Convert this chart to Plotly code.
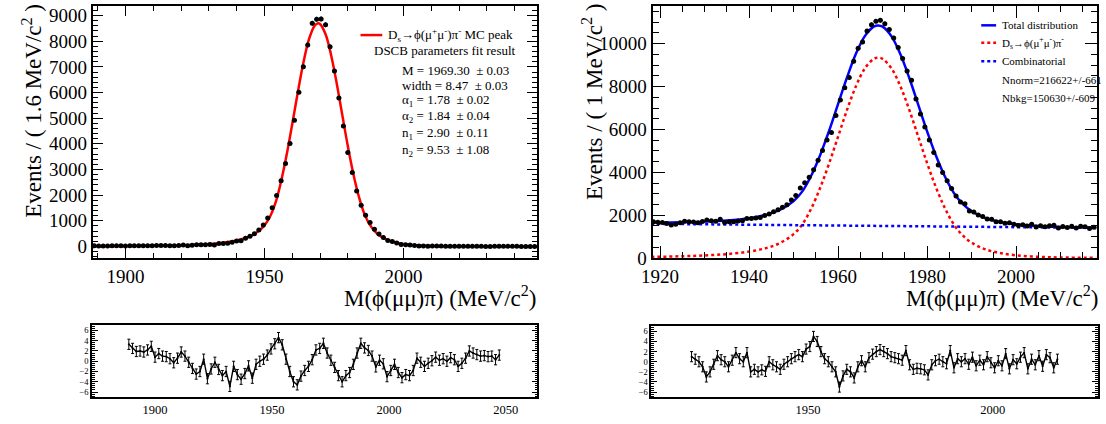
import numpy as np
import plotly.graph_objects as go

# ---------------- data: left (MC peak, 1.6 MeV bins) ----------------
left_start = 1888.8
left_bw = 1.6
left_counts = [22, 21, 20, 21, 22, 25, 29, 21, 25, 24,
               25, 25, 24, 30, 39, 38, 34, 29, 26, 32,
               54, 31, 50, 67, 63, 61, 78, 59, 115, 113,
               121, 161, 215, 217, 314, 394, 494, 636, 839, 1112,
               1510, 1990, 2557, 3235, 4013, 4922, 6013, 7001, 7850, 8700,
               8860, 8870, 8640, 7787, 6842, 5788, 4691, 3666, 2878, 2159,
               1606, 1212, 933, 669, 488, 348, 230, 189, 136, 78,
               68, 60, 35, 20, 17, 11, 12, 18, 12, 7,
               7, 7, 8, 5, 5, 4, 4, 3, 1, 1,
               2, 4, 3, 2, 2, 2, 1, 1, 1, 1]
left_fit_m = [1888, 1900, 1910, 1920, 1930, 1935, 1940, 1945, 1948, 1950, 1952, 1954,
              1956, 1958, 1960, 1962, 1964, 1966, 1968, 1969.3, 1970, 1972, 1974, 1976,
              1978, 1980, 1982, 1984, 1986, 1988, 1990, 1992, 1995, 2000, 2005, 2010,
              2020, 2030, 2048]
left_fit_v = [11, 17, 28, 48, 94, 142, 229, 404, 606, 822, 1156, 1704,
              2537, 3573, 4762, 6000, 7153, 8064, 8598, 8700, 8670, 8270, 7457, 6363,
              5134, 3916, 2826, 1930, 1260, 832, 560, 382, 222, 95, 44, 21,
              6, 2, 0.4]
left_pull = [3.3, 2.5, 1.9, 2.0, 1.8, 2.2, 2.9, 0.8, 1.5, 1.0,
             0.9, 0.5, -0.3, 0.6, 1.8, 1.0, -0.2, -1.4, -2.5, -2.0,
             0.4, -3.4, -1.5, -0.2, -1.6, -2.8, -2.0, -4.9, -1.0, -2.6,
             -3.5, -2.4, -0.9, -3.3, -0.6, 0.0, 0.4, 1.2, 2.4, 3.4,
             4.6, 3.2, 0.4, -2.0, -4.0, -4.6, -2.9, -1.8, -1.0, 0.3,
             2.2, 2.5, 3.5, 1.6, 0.2, -1.2, -2.8, -4.0, -2.8, -2.2,
             -0.6, 1.6, 3.5, 2.6, 2.1, 1.0, -1.1, 0.2, -0.5, -3.0,
             -1.8, -0.6, -2.2, -3.2, -2.6, -2.8, -1.8, 0.6, -0.2, -1.0,
             -0.4, 0.1, 0.8, 0.2, 0.5, 0.0, 0.7, 0.3, -1.0, -0.4,
             0.6, 2.0, 1.6, 1.3, 1.0, 1.1, 0.9, 1.0, 0.3, 1.2]

# ---------------- data: right (fit to data, 1 MeV bins) ----------------
right_start = 1918.5
right_bw = 1.0
right_counts = [1697, 1677, 1658, 1619, 1540, 1583, 1648, 1725, 1696, 1685,
                1649, 1710, 1780, 1739, 1724, 1811, 1665, 1700, 1696, 1732,
                1742, 1849, 1853, 1871, 1890, 1983, 2062, 2160, 2259, 2378,
                2484, 2706, 2919, 3265, 3510, 3776, 4123, 4565, 5020, 5508,
                5862, 6646, 7376, 7945, 8420, 9176, 9783, 10078, 10586, 10882,
                11048, 11088, 10928, 10658, 10267, 9825, 9309, 8722, 8295, 7422,
                6718, 6115, 5509, 4929, 4339, 3992, 3608, 3242, 2893, 2613,
                2534, 2200, 2149, 2009, 1943, 1820, 1816, 1693, 1694, 1621,
                1654, 1580, 1518, 1554, 1499, 1578, 1449, 1507, 1468, 1509,
                1536, 1407, 1473, 1425, 1490, 1405, 1488, 1461, 1382, 1442]
right_fit_m = [1918, 1925, 1930, 1935, 1940, 1944, 1947, 1950, 1952, 1954, 1956, 1958,
               1960, 1962, 1964, 1966, 1968, 1969, 1970, 1972, 1974, 1976, 1978, 1980,
               1982, 1984, 1986, 1988, 1990, 1993, 1996, 2000, 2005, 2010, 2018]
right_sig_v = [56, 87, 125, 188, 305, 479, 711, 1121, 1589, 2331, 3295, 4430,
               5671, 6910, 8013, 8845, 9292, 9350, 9292, 8845, 8013, 6910, 5671, 4430,
               3295, 2331, 1573, 1058, 724, 419, 251, 132, 62, 31, 11]
right_bkg_v = [1600, 1587, 1577, 1568, 1558, 1551, 1545, 1539, 1535, 1532, 1528, 1524,
               1520, 1516, 1513, 1509, 1505, 1503, 1501, 1497, 1494, 1490, 1486, 1482,
               1478, 1475, 1471, 1467, 1463, 1458, 1452, 1444, 1435, 1425, 1410]
right_pull = [1.0, 0.5, 0.0, -1.0, -3.0, -2.0, -0.5, 1.2, 0.4, 0.0,
              -1.0, 0.3, 1.8, 0.6, 0.0, 1.8, -2.0, -1.5, -2.0, -1.6,
              -1.9, 0.0, -0.6, -1.0, -1.5, -0.5, 0.0, 0.6, 1.0, 1.4,
              1.0, 2.5, 3.0, 5.0, 4.0, 2.0, 0.6, 0.0, -1.0, -2.0,
              -5.0, -2.8, -1.5, -2.0, -3.2, -1.0, 0.2, -1.0, 0.8, 1.5,
              2.0, 2.4, 2.0, 1.6, 1.0, 0.8, 0.6, 0.3, 2.2, -0.6,
              -1.5, -1.3, -1.4, -1.6, -2.6, -0.6, 0.2, 0.5, 0.0, -0.4,
              2.2, -1.2, 0.6, 0.0, 0.6, -0.5, 0.9, -0.8, 0.3, -0.6,
              1.0, -0.2, -1.2, 0.2, -0.8, 1.6, -1.4, 0.4, -0.4, 0.9,
              1.8, -1.4, 0.5, -0.6, 1.2, -0.9, 1.4, 0.8, -1.2, 0.5]

left_x = left_start + left_bw * np.arange(len(left_counts))
right_x = right_start + right_bw * np.arange(len(right_counts))
left_counts = np.array(left_counts, dtype=float)
right_counts = np.array(right_counts, dtype=float)
right_tot_v = np.array(right_sig_v) + np.array(right_bkg_v)

FONT = "Liberation Serif, Times New Roman, Times, DejaVu Serif, serif"
W, H = 1106, 424
def px(x):
    return x / W
def py(y):
    return 1 - y / H

fig = go.Figure()

# left main
fig.add_trace(go.Scatter(x=left_fit_m, y=left_fit_v, mode="lines",
                         line=dict(color="#ff0000", width=2.5, shape="spline"),
                         xaxis="x", yaxis="y", hoverinfo="skip"))
fig.add_trace(go.Scatter(x=left_x, y=left_counts, mode="markers",
                         marker=dict(color="black", size=5),
                         error_y=dict(type="data", array=np.sqrt(left_counts), color="black", thickness=1, width=0),
                         error_x=dict(type="constant", value=left_bw / 2, color="black", thickness=1, width=0),
                         xaxis="x", yaxis="y"))

# right main
fig.add_trace(go.Scatter(x=right_fit_m, y=right_sig_v, mode="lines",
                         line=dict(color="#ff0000", width=2.5, dash="dot", shape="spline"),
                         xaxis="x2", yaxis="y2"))
fig.add_trace(go.Scatter(x=right_fit_m, y=right_bkg_v, mode="lines",
                         line=dict(color="#0000ff", width=2.5, dash="dot"),
                         xaxis="x2", yaxis="y2"))
fig.add_trace(go.Scatter(x=right_fit_m, y=right_tot_v, mode="lines",
                         line=dict(color="#0000ff", width=2.5, shape="spline"),
                         xaxis="x2", yaxis="y2"))
fig.add_trace(go.Scatter(x=right_x, y=right_counts, mode="markers",
                         marker=dict(color="black", size=5),
                         error_y=dict(type="data", array=np.sqrt(right_counts), color="black", thickness=1, width=0),
                         error_x=dict(type="constant", value=right_bw / 2, color="black", thickness=1, width=0),
                         xaxis="x2", yaxis="y2"))

# pulls
fig.add_trace(go.Scatter(x=left_x, y=left_pull, mode="lines+markers",
                         line=dict(color="black", width=1.4), marker=dict(color="black", size=2),
                         error_y=dict(type="constant", value=1, color="black", thickness=1, width=1.5),
                         xaxis="x3", yaxis="y3"))
fig.add_trace(go.Scatter(x=right_x, y=right_pull, mode="lines+markers",
                         line=dict(color="black", width=1.4), marker=dict(color="black", size=2),
                         error_y=dict(type="constant", value=1, color="black", thickness=1, width=1.5),
                         xaxis="x4", yaxis="y4"))

def ax(domain, rng, dtick, minor_dtick, anchor, fs, ticklen=10, lw=2, tick0=None):
    d = dict(domain=domain, range=rng, anchor=anchor, showgrid=False, zeroline=False,
             showline=True, linecolor="black", linewidth=lw, mirror="ticks",
             ticks="inside", ticklen=ticklen, tickwidth=1.3, tickcolor="black",
             dtick=dtick, tickformat="d",
             tickfont=dict(family=FONT, size=fs, color="black"),
             minor=dict(ticks="inside", ticklen=ticklen / 2, tickwidth=1, tickcolor="black", dtick=minor_dtick))
    if tick0 is not None:
        d["tick0"] = tick0
    return d

fig.update_layout(
    width=W, height=H, margin=dict(l=0, r=0, t=0, b=0),
    paper_bgcolor="white", plot_bgcolor="white", showlegend=False,
    font=dict(family=FONT, color="black"),
    xaxis=ax([px(82.7), px(531.7)], [1888.3, 2048.2], 50, 10, "y", 19, tick0=1900),
    yaxis=ax([py(265), py(6)], [-456, 9380], 1000, 200, "x", 19),
    xaxis2=ax([px(648), px(1097)], [1918.3, 2018.2], 20, 5, "y2", 19, ticklen=12, tick0=1920),
    yaxis2=ax([py(265), py(6)], [0, 11765], 2000, 500, "x2", 19, ticklen=12),
    xaxis3=ax([px(81.7), px(531.7)], [1873, 2063.5], 50, 10, "y3", 12.5, ticklen=0, lw=1.5, tick0=1900),
    yaxis3=ax([py(408), py(334)], [-7.05, 7.0], 2, 0.4, "x3", 8.5, ticklen=6, lw=1.5),
    xaxis4=ax([px(646.7), px(1098)], [1907.6, 2028.5], 50, 10, "y4", 12.5, ticklen=0, lw=1.5, tick0=1950),
    yaxis4=ax([py(408), py(335)], [-7.05, 7.0], 2, 0.4, "x4", 8.5, ticklen=6, lw=1.5),
)
for k in ["xaxis3", "xaxis4"]:
    fig.layout[k].minor.ticks = ""

ann = []
def text(x, y, s, size, xanchor="left", yanchor="middle", angle=0):
    ann.append(dict(x=px(x), y=py(y), xref="paper", yref="paper", text=s, showarrow=False,
                    xanchor=xanchor, yanchor=yanchor, textangle=angle,
                    font=dict(family=FONT, size=size, color="black")))

# axis titles
text(532, 304, "M(\u03d5(\u03bc\u03bc)\u03c0) (MeV/c<sup>2</sup>)", 23, xanchor="right")
text(1100, 304, "M(\u03d5(\u03bc\u03bc)\u03c0) (MeV/c<sup>2</sup>)", 23, xanchor="right")
text(22, 2, "Events / ( 1.6 MeV/c<sup>2</sup> )", 23, xanchor="center", yanchor="top", angle=-90)
text(588, 2, "Events / ( 1 MeV/c<sup>2</sup> )", 23, xanchor="center", yanchor="top", angle=-90)

# left legend
text(379, 36, "D<sub>s</sub>\u2192\u03d5(\u03bc<sup>+</sup>\u03bc<sup>-</sup>)\u03c0<sup>-</sup> MC peak", 13)
text(365, 52, "DSCB parameters fit result", 13)
for yy, s in [(72, "M = 1969.30  \u00b1 0.03"), (88, "width = 8.47  \u00b1 0.03"),
              (103, "\u03b1<sub>1</sub> = 1.78  \u00b1 0.02"), (120, "\u03b1<sub>2</sub> = 1.84  \u00b1 0.04"),
              (137, "n<sub>1</sub> = 2.90  \u00b1 0.11"), (154, "n<sub>2</sub> = 9.53  \u00b1 1.08")]:
    text(393, yy, s, 13)

# right legend
text(999, 26, "Total distribution", 11)
text(999, 44, "D<sub>s</sub>\u2192\u03d5(\u03bc<sup>+</sup>\u03bc<sup>-</sup>)\u03c0<sup>-</sup>", 11)
text(999, 63, "Combinatorial", 11)
text(999, 82, "Nnorm=216622+/-661", 11)
text(999, 101, "Nbkg=150630+/-609", 11)

shapes = [
    dict(type="line", xref="paper", yref="paper", x0=px(353), x1=px(375), y0=py(36), y1=py(36),
         line=dict(color="#ff0000", width=2.5)),
    dict(type="line", xref="paper", yref="paper", x0=px(980), x1=px(995), y0=py(26), y1=py(26),
         line=dict(color="#0000ff", width=2.5)),
    dict(type="line", xref="paper", yref="paper", x0=px(980), x1=px(995), y0=py(44), y1=py(44),
         line=dict(color="#ff0000", width=2.5, dash="dot")),
    dict(type="line", xref="paper", yref="paper", x0=px(980), x1=px(995), y0=py(63), y1=py(63),
         line=dict(color="#0000ff", width=2.5, dash="dot")),
]
fig.update_layout(annotations=ann, shapes=shapes)
fig.write_html("out.html")
